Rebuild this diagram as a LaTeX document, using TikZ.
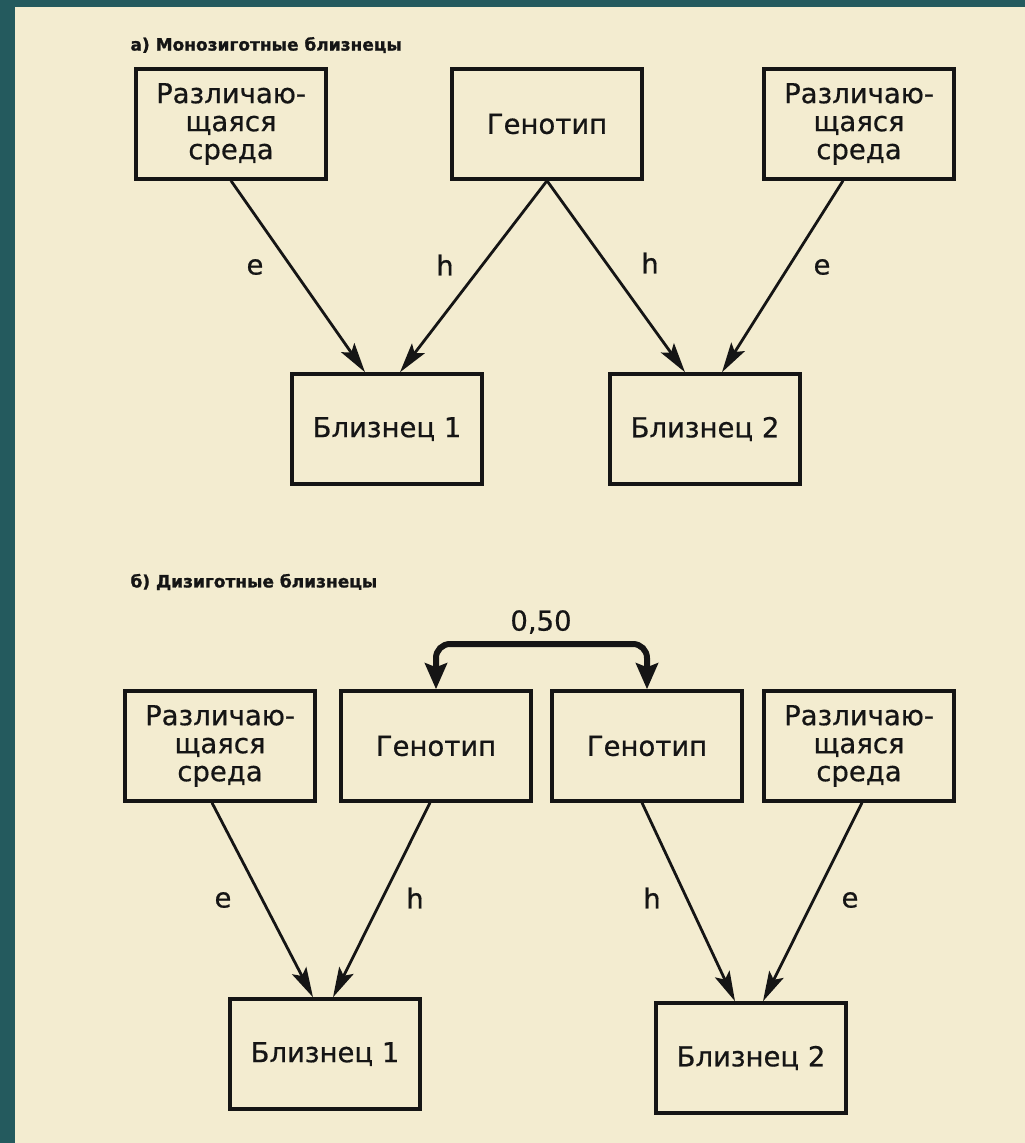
\documentclass[tikz,border=0pt]{standalone}
\usepackage{fontspec}
\setmainfont{DejaVu Sans}[FakeBold=0.6]
\newfontfamily\headfont{DejaVu Sans}[FakeBold=1.2]
\usetikzlibrary{arrows.meta}
\definecolor{slidebg}{HTML}{245A5E}
\definecolor{paper}{HTML}{F3ECD0}
\definecolor{ink}{HTML}{151515}
\begin{document}
\begin{tikzpicture}[x=1pt,y=-1pt,
    box/.style={draw=ink,line width=3.5pt,minimum width=190pt,minimum height=110pt,
      inner sep=0pt,align=center,text=ink,font=\fontsize{27.5}{28}\selectfont},
    coef/.style={text=ink,font=\fontsize{27.5}{28}\selectfont},
    heading/.style={anchor=west,text=ink,font=\headfont\bfseries\fontsize{17}{22}\selectfont},
    link/.style={draw=ink,line width=2.8pt,-{Stealth[length=30pt,width=16pt,inset=6pt]}}]
  \fill[slidebg] (0,0) rectangle (1025,1143);
  \fill[paper] (15,7) rectangle (1025,1143);
  \useasboundingbox (0,0) rectangle (1025,1143);
  % a) monozygotic
  \node[heading] (titleA) at (127,45) {а) Монозиготные близнецы};
  \node[box] (envA1) at (231,124) {Различаю-\\щаяся\\среда};
  \node[box] (genA) at (547,124) {Генотип};
  \node[box] (envA2) at (859,124) {Различаю-\\щаяся\\среда};
  \node[box] (twinA1) at (387,429) {Близнец 1};
  \node[box] (twinA2) at (705,429) {Близнец 2};
  \draw[link] (envA1.south) -- ([xshift=-22pt]twinA1.north);
  \draw[link] (genA.south) -- ([xshift=13pt]twinA1.north);
  \draw[link] (genA.south) -- ([xshift=-20pt]twinA2.north);
  \draw[link] ([xshift=-16pt]envA2.south) -- ([xshift=17pt]twinA2.north);
  \node[coef] (eA1) at (255,267) {e};
  \node[coef] (hA1) at (445,265) {h};
  \node[coef] (hA2) at (650,263) {h};
  \node[coef] (eA2) at (822,267) {e};
  % b) dizygotic
  \node[heading] (titleB) at (127,582) {б) Дизиготные близнецы};
  \node[box] (envB1) at (220,746) {Различаю-\\щаяся\\среда};
  \node[box] (genB1) at (436,746) {Генотип};
  \node[box] (genB2) at (647,746) {Генотип};
  \node[box] (envB2) at (859,746) {Различаю-\\щаяся\\среда};
  \node[box] (twinB1) at (325,1054) {Близнец 1};
  \node[box] (twinB2) at (751,1058) {Близнец 2};
  \draw[link] ([xshift=-8pt]envB1.south) -- ([xshift=-12pt]twinB1.north);
  \draw[link] ([xshift=-6pt]genB1.south) -- ([xshift=8pt]twinB1.north);
  \draw[link] ([xshift=-5pt]genB2.south) -- ([xshift=-16pt]twinB2.north);
  \draw[link] ([xshift=3pt]envB2.south) -- ([xshift=12pt]twinB2.north);
  \node[coef] (eB1) at (223,900) {e};
  \node[coef] (hB1) at (415,898) {h};
  \node[coef] (hB2) at (652,898) {h};
  \node[coef] (eB2) at (850,900) {e};
  \coordinate (corr) at (541,644);
  \draw[draw=ink,line width=6pt,rounded corners=14pt,
    {Stealth[length=26pt,width=22pt,inset=4pt]}-{Stealth[length=26pt,width=22pt,inset=4pt]}]
    (genB1.north) |- (corr) -| (genB2.north);
  \node[coef] (r) at (541,622) {0,50};
\end{tikzpicture}
\end{document}
